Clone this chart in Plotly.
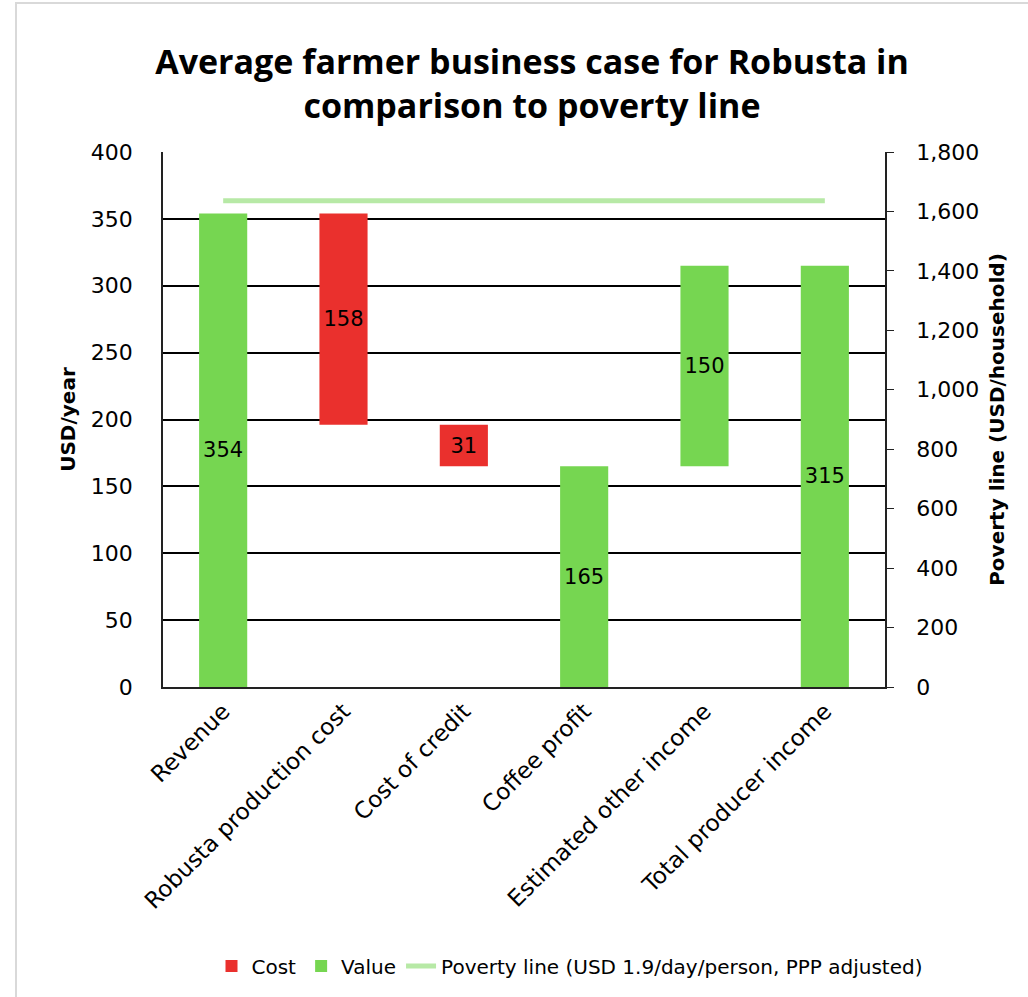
import plotly.graph_objects as go

categories = ["Revenue", "Robusta production cost", "Cost of credit",
              "Coffee profit", "Estimated other income", "Total producer income"]
amounts = [354, 158, 31, 165, 150, 315]
kinds = ["value", "cost", "cost", "value", "value", "value"]
bases = [0, 196, 165, 0, 165, 0]
poverty_line = [1636, 1636]
poverty_x = [categories[0], categories[-1]]

RED = "#ea302d"
GREEN = "#76d651"
LINE_GREEN = "#b7e9a6"
FONT = "DejaVu Sans"
TITLE_FONT = "Open Sans"

# plot area in pixels
L, R, T, B = 163, 885, 152, 687
W, H = 1028, 997

def px_x(p):
    return (p - L) / (R - L)

def px_y(p):
    return (B - p) / (B - T)

cost_y = [a if k == "cost" else None for a, k in zip(amounts, kinds)]
cost_b = [b if k == "cost" else None for b, k in zip(bases, kinds)]
val_y = [a if k == "value" else None for a, k in zip(amounts, kinds)]
val_b = [b if k == "value" else None for b, k in zip(bases, kinds)]

fig = go.Figure()
fig.add_trace(go.Bar(
    x=categories, y=cost_y, base=cost_b, name="Cost",
    marker=dict(color=RED, line=dict(width=0)),
    text=[str(v) if v is not None else "" for v in cost_y],
    textposition="inside", insidetextanchor="middle",
    textfont=dict(color="black", size=21, family=FONT),
    width=0.4, offset=-0.2,
))
fig.add_trace(go.Bar(
    x=categories, y=val_y, base=val_b, name="Value",
    marker=dict(color=GREEN, line=dict(width=0)),
    text=[str(v) if v is not None else "" for v in val_y],
    textposition="inside", insidetextanchor="middle",
    textfont=dict(color="black", size=21, family=FONT),
    width=0.4, offset=-0.2,
))
fig.add_trace(go.Scatter(
    x=poverty_x, y=poverty_line, yaxis="y2", mode="lines",
    name="Poverty line (USD 1.9/day/person, PPP adjusted)",
    line=dict(color=LINE_GREEN, width=5),
))

fig.update_layout(
    width=W, height=H,
    margin=dict(l=L, r=W - R, t=T, b=H - B, autoexpand=False),
    paper_bgcolor="white", plot_bgcolor="white",
    font=dict(family=FONT, color="black", size=21),
    barmode="overlay",
    showlegend=True,
    title=dict(
        text="<b>Average farmer business case for Robusta in<br>comparison to poverty line</b>",
        x=px_x(532), xref="paper", xanchor="center",
        y=1 - 74 / H, yref="container", yanchor="middle",
        font=dict(size=34, family=TITLE_FONT, color="black"),
    ),
    xaxis=dict(
        type="category", range=[-0.5, 5.5],
        tickangle=-45, showline=True, linecolor="#222", linewidth=1.5,
        showgrid=False, ticks="", tickfont=dict(size=23, family=FONT),
        mirror=False, zeroline=False,
    ),
    yaxis=dict(
        range=[0, 400], dtick=50, showline=True, linecolor="#222", linewidth=1.5,
        showgrid=True, gridcolor="black", gridwidth=1.5, zeroline=False,
        ticks="", tickfont=dict(size=22, family=FONT), ticklabelstandoff=24,
        title=dict(text="<b>USD/year</b>", font=dict(size=20, family=FONT), standoff=10),
    ),
    yaxis2=dict(
        range=[0, 1800], dtick=200, overlaying="y", side="right",
        showline=True, linecolor="#222", linewidth=1.5, showgrid=False,
        zeroline=False, ticks="outside", ticklen=7, tickcolor="#222",
        tickformat=",", tickfont=dict(size=22, family=FONT), ticklabelstandoff=18,
        title=dict(text="<b>Poverty line (USD/household)</b>",
                   font=dict(size=20, family=FONT), standoff=12),
    ),
    legend=dict(
        orientation="h", xref="container", yref="container",
        x=570 / W, xanchor="center", y=1 - 966 / H, yanchor="middle",
        font=dict(size=20, family=FONT), traceorder="normal",
        itemwidth=30, tracegroupgap=0,
    ),
    shapes=[dict(
        type="rect", xref="paper", yref="paper",
        x0=px_x(16), x1=px_x(1040), y0=px_y(1010), y1=px_y(3),
        line=dict(color="#d9d9d9", width=2), fillcolor="rgba(0,0,0,0)", layer="below",
    )],
)

fig.write_html("out.html")
